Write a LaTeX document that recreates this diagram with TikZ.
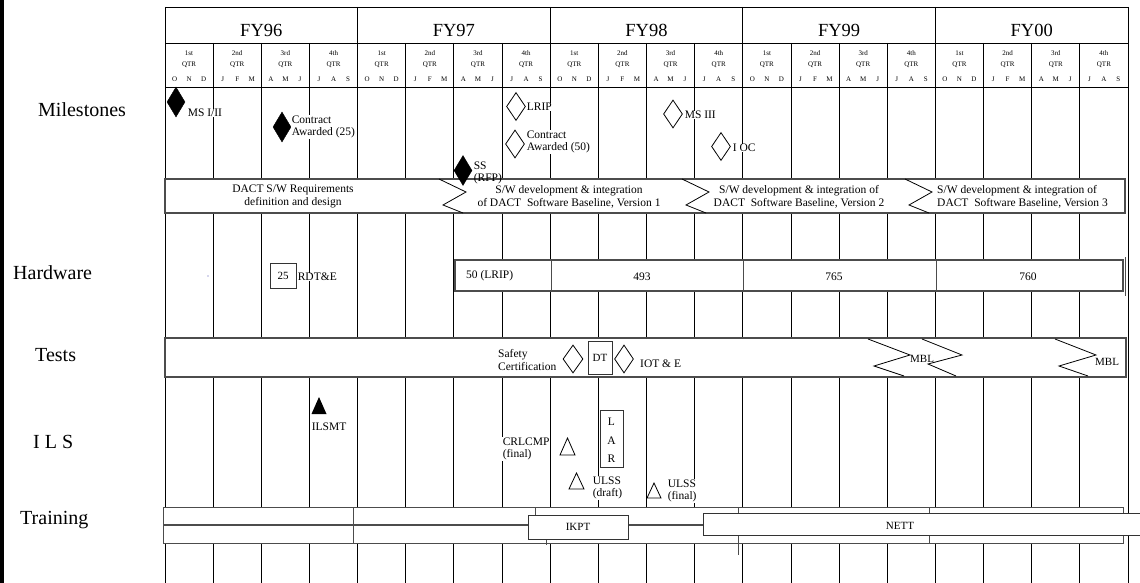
\documentclass[tikz,border=0pt]{standalone}
\usepackage{fontspec}
\setmainfont{Liberation Serif}
\usetikzlibrary{shapes.geometric}
\begin{document}
\begin{tikzpicture}[x=1pt,y=-1pt,
  gridl/.style={line width=0.9pt, black},
  bar/.style={draw=black!70, line width=1.1pt, fill=white},
  divl/.style={draw=black!70, line width=0.9pt},
  lbl/.style={font=\fontsize{11.5}{12.5}\selectfont, inner sep=0.6pt, fill=white, align=left, anchor=west},
  barlbl/.style={font=\fontsize{11.5}{13}\selectfont, inner sep=0pt, align=center},
  rowlbl/.style={font=\fontsize{20}{24}\selectfont, inner sep=0pt, anchor=base west},
  fylbl/.style={font=\fontsize{18.5}{20}\selectfont, inner sep=0pt, anchor=base},
  qlbl/.style={font=\fontsize{7}{8}\selectfont, inner sep=0pt, anchor=base},
  fdia/.style={shape=diamond, fill=black, draw=black, minimum width=18pt, minimum height=30pt, inner sep=0pt},
  odia/.style={shape=diamond, fill=white, draw=black, line width=0.8pt, minimum width=19pt, minimum height=28pt, inner sep=0pt},
  zig/.style={line width=0.8pt, black},
  box/.style={draw=black!80, line width=0.9pt, fill=white, inner sep=0pt, font=\fontsize{11}{12}\selectfont},
  tri/.style={line width=0.8pt, black}
]
\useasboundingbox (0,0) rectangle (1140,583);
\fill[black] (0,0) rectangle (3.5,583);

% ---------- grid ----------
\foreach \i in {1,...,19} \draw[gridl] ({165+\i*48.15},43) -- ({165+\i*48.15},583);
\foreach \i in {4,8,12,16} \draw[gridl] ({165+\i*48.15},7) -- ({165+\i*48.15},43);
\draw[gridl] (165,7) -- (165,583);
\draw[gridl] (1128,7) -- (1128,583);
\draw[gridl] (165,7) -- (1128,7);
\draw[gridl] (165,43) -- (1128,43);
\draw[gridl] (165,87) -- (1128,87);

% ---------- header ----------
\foreach \n [count=\k from 0] in {FY96,FY97,FY98,FY99,FY00}
  \node[fylbl] (fy\k) at ({165+(4*\k+2)*48.15},36.5) {\n};
\foreach \q in {0,...,19}{
  \pgfmathtruncatemacro\m{mod(\q,4)}
  \pgfmathsetmacro\xc{165+(\q+0.5)*48.15}
  \node[qlbl] (qo\q) at (\xc,55.5) {\ifcase\m\relax 1st\or 2nd\or 3rd\or 4th\fi};
  \node[qlbl] (qq\q) at (\xc,66.5) {QTR};
  \node[qlbl] (qa\q) at (\xc-14.5,81.5) {\ifcase\m\relax O\or J\or A\or J\fi};
  \node[qlbl] (qb\q) at (\xc,81.5) {\ifcase\m\relax N\or F\or M\or A\fi};
  \node[qlbl] (qc\q) at (\xc+14.5,81.5) {\ifcase\m\relax D\or M\or J\or S\fi};
}

% ---------- row labels ----------
\node[rowlbl] (rMil) at (38,117) {Milestones};
\node[rowlbl] (rHw) at (13,279) {Hardware};
\node[rowlbl] (rTest) at (35,361) {Tests};
\node[rowlbl] (rIls) at (33,448) {I L S};
\node[rowlbl] (rTrain) at (20,524) {Training};

% ---------- software bar ----------
\draw[bar] (165,179) rectangle (1125,213);
\foreach \z in {439,682,905}
  \draw[zig] (\z,179) -- (\z+27,192) -- (\z+4,205) -- (\z+24,213);
\node[barlbl] (sw0) at (293,196.5) {DACT S/W Requirements\\definition and design};
\node[barlbl] (sw1) at (569,196.5) {S/W development \& integration\\of DACT\ \ Software Baseline, Version 1};
\node[barlbl] (sw2) at (799,196.5) {S/W development \& integration of\\DACT\ \ Software Baseline, Version 2};
\node[barlbl, align=left, anchor=west] (sw3) at (937,196.5) {S/W development \& integration of\\DACT\ \ Software Baseline, Version 3};

% ---------- milestones ----------
\node[fdia] (ms1) at (176,102) {};
\node[lbl] (ms1t) at (187,113) {MS I/II};
\node[fdia] (ca25) at (282,127) {};
\node[lbl] (ca25t) at (291,127) {Contract\\Awarded (25)};
\node[fdia] (ss) at (463,170.5) {};
\node[lbl, fill=none] (sst) at (473,173) {SS\\(RFP)};
\node[odia] (lrip) at (516,106.5) {};
\node[lbl] (lript) at (526,107) {LRIP};
\node[odia] (ca50) at (515,144) {};
\node[lbl] (ca50t) at (526,142) {Contract\\Awarded (50)};
\node[odia] (ms3) at (673,114) {};
\node[lbl] (ms3t) at (684,115) {MS III};
\node[odia] (ioc) at (721,146.5) {};
\node[lbl] (ioct) at (732,148) {I OC};

% ---------- hardware ----------
\fill[blue!40!gray] (208,276) circle (0.6);
\node[box, minimum width=26pt, minimum height=25pt] (hw25) at (283,275.5) {25};
\node[lbl] (rdte) at (297,277) {RDT\&E};
\draw[bar] (455,260) rectangle (1123,291);
\foreach \d in {551,743,936} \draw[divl] (\d,260) -- (\d,291);
\draw[divl] (1125.5,257) -- (1125.5,296);
\node[barlbl, anchor=west] (hw50) at (466,276) {50 (LRIP)};
\node[barlbl] (hw493) at (642,276.5) {493};
\node[barlbl] (hw765) at (834,276.5) {765};
\node[barlbl] (hw760) at (1028,276.5) {760};

% ---------- tests ----------
\draw[bar] (165,338) rectangle (1126,377);
\node[barlbl, align=left, anchor=west] (safe) at (498,360) {Safety\\Certification};
\node[odia, minimum width=20pt] (sdia) at (573,359) {};
\node[box, minimum width=24pt, minimum height=33pt] (dt) at (600,357.5) {DT};
\node[odia] (idia) at (624,359) {};
\node[barlbl, anchor=west] (iote) at (640,364) {IOT \& E};
\draw[zig] (868,339) -- (910,355) -- (874,366) -- (904,376);
\draw[zig] (922,339) -- (962,355) -- (928,364) -- (956,376);
\draw[zig] (1055,339) -- (1096,355) -- (1059,366) -- (1088,376);
\node[barlbl, anchor=west, font=\fontsize{11}{12}\selectfont] (mbl1) at (910,358.5) {MBL};
\node[barlbl, anchor=west, font=\fontsize{11}{12}\selectfont] (mbl2) at (1095,362) {MBL};

% ---------- ILS ----------
\coordinate (ilsmt) at (319,397);
\fill[black] (ilsmt) -- ++(7.5,17) -- ++(-15,0) -- cycle;
\node[lbl] (ilsmtt) at (311,427) {ILSMT};
\node[lbl] (crl) at (502,449) {CRLCMP\\(final)};
\coordinate (tr1) at (567.5,438);
\draw[tri] (tr1) -- ++(7.5,17) -- ++(-15,0) -- cycle;
\node[box, minimum width=23pt, minimum height=57pt] (lar) at (611.5,438.5) {};
\node[barlbl] (larL) at (611.5,422) {L};
\node[barlbl] (larA) at (611.5,441) {A};
\node[barlbl] (larR) at (611.5,459) {R};
\coordinate (tr2) at (576.5,473);
\draw[tri] (tr2) -- ++(7.5,16) -- ++(-15,0) -- cycle;
\node[lbl] (ulss1) at (592,488) {ULSS\\(draft)};
\coordinate (tr3) at (654,483);
\draw[tri] (tr3) -- ++(7,15) -- ++(-14,0) -- cycle;
\node[lbl] (ulss2) at (667,491) {ULSS\\(final)};

% ---------- training ----------
\draw[bar, line width=0.9pt] (163,507) rectangle (1123,524);
\draw[bar, line width=0.9pt] (163,525.5) rectangle (1123,543);
\draw[divl] (353,507) -- (353,543);
\draw[divl] (535,507) -- (535,515);
\draw[divl] (546,539) -- (546,545);
\draw[divl] (738,507) -- (738,513);
\draw[divl] (738,536) -- (738,555);
\draw[divl] (929,507) -- (929,513);
\draw[divl] (929,536) -- (929,543);
\node[box, minimum width=100pt, minimum height=24pt] (ikpt) at (578,527) {IKPT};
\node[box, minimum width=443pt, minimum height=22pt] (nett) at (924.5,524) {};
\node[barlbl, font=\fontsize{11}{12}\selectfont] (nettt) at (900,526) {NETT};
\end{tikzpicture}
\end{document}
